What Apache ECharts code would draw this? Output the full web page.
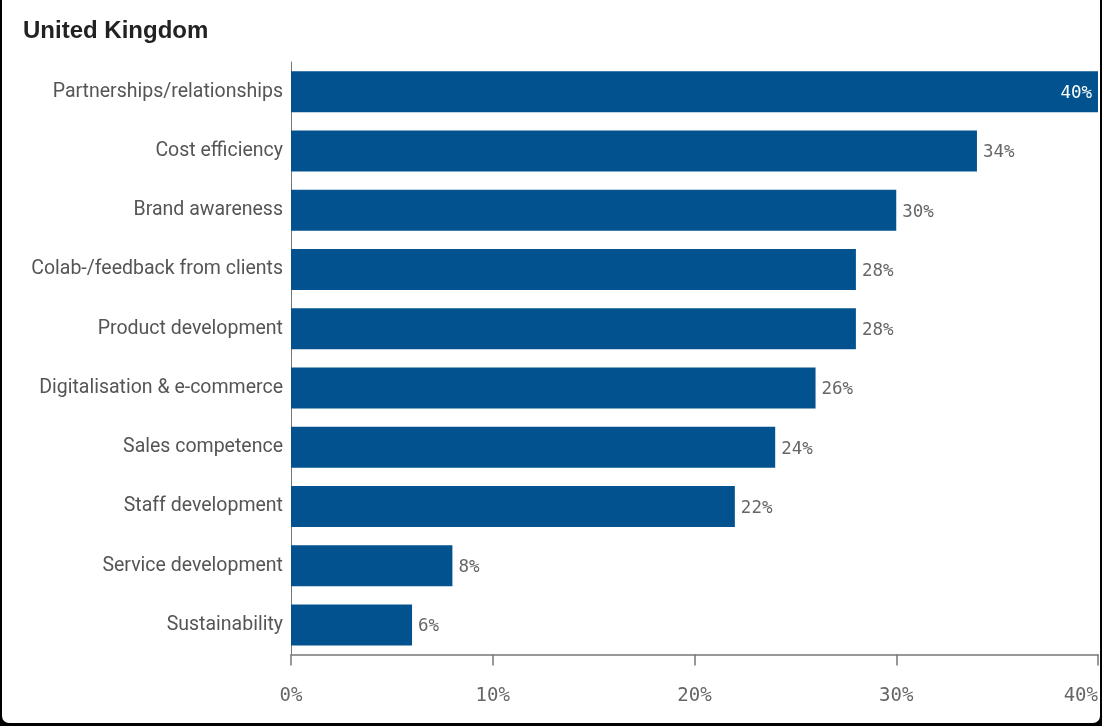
<!DOCTYPE html>
<html>
<head>
<meta charset="utf-8">
<script src="https://cdn.jsdelivr.net/npm/echarts@6/dist/echarts.min.js"></script>
<style>
html,body{margin:0;padding:0;background:#000;width:1102px;height:726px;overflow:hidden;}
#card{position:absolute;left:2px;top:-6px;width:1098px;height:729px;background:#fff;border-radius:7px;overflow:hidden;}
#chart{position:absolute;left:-2px;top:6px;width:1102px;height:726px;}
</style>
</head>
<body>
<div id="card"><div id="chart"></div></div>
<script>
const categories = ["Partnerships/relationships","Cost efficiency","Brand awareness","Colab-/feedback from clients","Product development","Digitalisation & e-commerce","Sales competence","Staff development","Service development","Sustainability"];
const values = [40,34,30,28,28,26,24,22,8,6];
const xTicks = [0,10,20,30,40];

const chart = echarts.init(document.getElementById('chart'), null, {renderer:'canvas'});
chart.setOption({
  animation:false,
  title:{text:'United Kingdom',left:18,top:14,textStyle:{fontFamily:'Liberation Sans',fontWeight:'bold',fontSize:24,color:'#222'}},
  grid:{left:291,right:4,top:62,bottom:71.5,containLabel:false},
  xAxis:{type:'value',min:0,max:40,interval:10,
    axisLine:{show:true,lineStyle:{color:'#777',width:1.5}},
    axisTick:{show:true,length:11,lineStyle:{color:'#777',width:1.5}},
    splitLine:{show:false},
    axisLabel:{margin:32,fontFamily:'DejaVu Sans Mono',fontSize:19,color:'#666',
      formatter:v=>v+'%',
      alignMinLabel:'center',alignMaxLabel:'right'}
  },
  yAxis:{type:'category',data:categories,inverse:true,
    axisLine:{show:true,lineStyle:{color:'#777',width:1}},
    axisTick:{show:false},
    axisLabel:{margin:8,fontFamily:'Roboto',fontSize:19.5,color:'#555'}
  },
  series:[{type:'bar',data:values.map((v,i)=>({value:v,label: i===0?{position:'insideRight',color:'#fff',offset:[0,2]}:{}})),
    barWidth:41,
    itemStyle:{color:'#02528F'},
    label:{show:true,position:'right',distance:6,offset:[0,2],formatter:p=>p.value+'%',fontFamily:'DejaVu Sans Mono',fontSize:17.5,color:'#666'}
  }]
});
</script>
</body>
</html>
